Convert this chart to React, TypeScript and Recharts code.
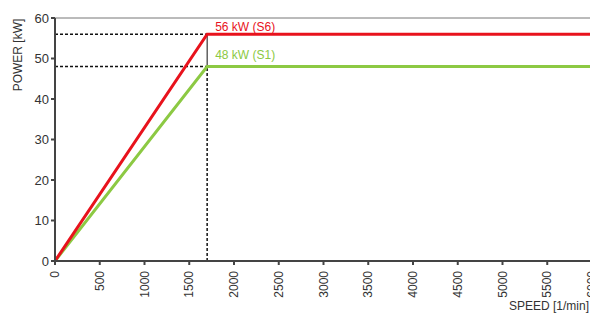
import { LineChart, Line, XAxis, YAxis, ReferenceLine, ReferenceDot } from 'recharts'

const speedTicks = [0, 500, 1000, 1500, 2000, 2500, 3000, 3500, 4000, 4500, 5000, 5500, 6000]
const powerTicks = [0, 10, 20, 30, 40, 50, 60]

const kneeSpeed = 1700
const s6Curve = [
  { speed: 0, power: 0 },
  { speed: 1700, power: 56 },
  { speed: 6000, power: 56 },
]
const s1Curve = [
  { speed: 0, power: 0 },
  { speed: 1700, power: 48 },
  { speed: 6000, power: 48 },
]

const font = '"Liberation Sans", Arial, sans-serif'
const RED = '#e8121c'
const GREEN = '#8cc943'

const XTick = ({ x, y, payload }: any) => (
  <text
    x={x}
    y={y + 4}
    dy={4}
    transform={`rotate(-90, ${x}, ${y + 4})`}
    textAnchor="end"
    fontSize={12}
    fill="#333"
    fontFamily={font}
  >
    {payload.value}
  </text>
)

export default function App() {
  return (
    <div style={{ position: 'fixed', left: 0, top: 0, width: 590, height: 313, overflow: 'hidden', background: '#fff' }}>
      <LineChart width={600} height={313} margin={{ top: 18, right: 8, left: 0, bottom: 0 }}>
        <XAxis
          type="number"
          dataKey="speed"
          domain={[0, 6000]}
          ticks={speedTicks}
          interval={0}
          height={52}
          tick={<XTick />}
          tickSize={4}
          stroke="#444"
          strokeWidth={2}
          label={{ value: 'SPEED [1/min]', position: 'insideBottomRight', offset: 3, fontSize: 12, fill: '#333', fontFamily: font }}
        />
        <YAxis
          type="number"
          domain={[0, 60]}
          ticks={powerTicks}
          interval={0}
          width={55}
          tickSize={4}
          stroke="#444"
          strokeWidth={2}
          tick={{ fontSize: 13, fill: '#333', fontFamily: font }}
          label={{
            content: () => (
              <text x={22} y={55} transform="rotate(-90, 22, 55)" textAnchor="middle" fontSize={12} fill="#333" fontFamily={font}>
                POWER [kW]
              </text>
            ),
          }}
        />
        <ReferenceLine y={60} stroke="#777" strokeWidth={1} />
        <ReferenceLine segment={[{ x: 0, y: 56 }, { x: kneeSpeed, y: 56 }]} stroke="#111" strokeWidth={1.5} strokeDasharray="3 2" />
        <ReferenceLine segment={[{ x: 0, y: 48 }, { x: kneeSpeed, y: 48 }]} stroke="#111" strokeWidth={1.5} strokeDasharray="3 2" />
        <ReferenceLine segment={[{ x: kneeSpeed, y: 0 }, { x: kneeSpeed, y: 48 }]} stroke="#111" strokeWidth={1.5} strokeDasharray="3 2" />
        <ReferenceLine segment={[{ x: kneeSpeed, y: 48 }, { x: kneeSpeed, y: 56 }]} stroke="#111" strokeWidth={1} />
        <Line data={s1Curve} dataKey="power" stroke={GREEN} strokeWidth={3} dot={false} isAnimationActive={false} />
        <Line data={s6Curve} dataKey="power" stroke={RED} strokeWidth={3} dot={false} isAnimationActive={false} />
        <ReferenceDot
          x={kneeSpeed}
          y={56}
          r={0}
          fill="none"
          stroke="none"
          label={{
            content: ({ viewBox }: any) => (
              <text x={viewBox.x + 8} y={viewBox.y - 3} fontSize={12} fill={RED} fontFamily={font}>
                56 kW (S6)
              </text>
            ),
          }}
        />
        <ReferenceDot
          x={kneeSpeed}
          y={48}
          r={0}
          fill="none"
          stroke="none"
          label={{
            content: ({ viewBox }: any) => (
              <text x={viewBox.x + 8} y={viewBox.y - 8} fontSize={12} fill={GREEN} fontFamily={font}>
                48 kW (S1)
              </text>
            ),
          }}
        />
      </LineChart>
    </div>
  )
}
